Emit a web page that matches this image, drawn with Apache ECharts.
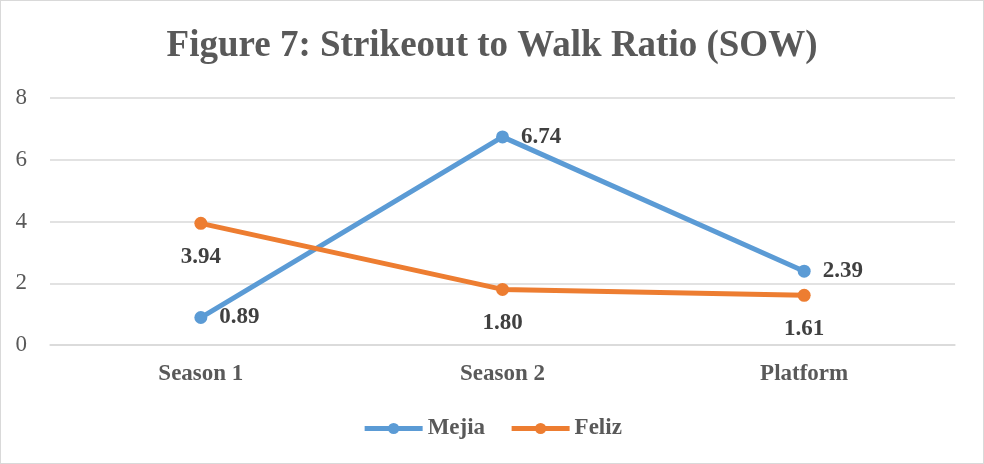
<!DOCTYPE html>
<html>
<head>
<meta charset="utf-8">
<script src="https://cdn.jsdelivr.net/npm/echarts@6/dist/echarts.min.js"></script>
<style>
  html, body { margin: 0; padding: 0; background: #fff; }
  #chart { width: 984px; height: 464px; box-sizing: border-box; border: 1px solid #d9d9d9; }
</style>
</head>
<body>
<div id="chart"></div>
<script>
const categories = ['Season 1', 'Season 2', 'Platform'];
const mejia = [0.89, 6.74, 2.39];
const feliz = [3.94, 1.80, 1.61];
const yTicks = { min: 0, max: 8, interval: 2 };

const serif = '"Liberation Serif", "Times New Roman", serif';

const chart = echarts.init(document.getElementById('chart'), null, { renderer: 'canvas' });

const labelStyle = (position, distance) => ({
  show: true,
  position: position,
  distance: distance,
  formatter: (p) => p.value.toFixed(2),
  fontFamily: serif,
  fontWeight: 'bold',
  fontSize: 23,
  color: '#404040',
});

chart.setOption({
  animation: false,
  backgroundColor: '#fff',
  title: {
    text: 'Figure 7: Strikeout to Walk Ratio (SOW)',
    left: 'center',
    top: 22,
    textStyle: {
      fontFamily: serif,
      fontWeight: 'bold',
      fontSize: 37,
      color: '#595959',
    },
  },
  grid: { left: 49, right: 28, top: 97, bottom: 118 },
  legend: {
    bottom: 18,
    left: 'center',
    itemWidth: 58,
    itemHeight: 14,
    itemGap: 24,
    lineStyle: { width: 5 },
    textStyle: {
      fontFamily: serif,
      fontWeight: 'bold',
      fontSize: 23,
      color: '#595959',
    },
    data: ['Mejia', 'Feliz'],
  },
  xAxis: {
    type: 'category',
    data: categories,
    boundaryGap: true,
    axisLine: { show: true, lineStyle: { color: '#d9d9d9', width: 1.5 } },
    axisTick: { show: false },
    axisLabel: {
      margin: 18,
      fontFamily: serif,
      fontWeight: 'bold',
      fontSize: 23,
      color: '#595959',
    },
  },
  yAxis: {
    type: 'value',
    min: yTicks.min,
    max: yTicks.max,
    interval: yTicks.interval,
    axisLine: { show: false },
    axisTick: { show: false },
    splitLine: { lineStyle: { color: '#d9d9d9', width: 1.5 } },
    axisLabel: {
      margin: 23,
      fontFamily: serif,
      fontSize: 23,
      color: '#595959',
    },
  },
  series: [
    {
      name: 'Mejia',
      type: 'line',
      data: mejia,
      symbol: 'circle',
      symbolSize: 13,
      itemStyle: { color: '#5B9BD5' },
      lineStyle: { width: 5, color: '#5B9BD5' },
      label: labelStyle('right', 12),
    },
    {
      name: 'Feliz',
      type: 'line',
      data: feliz,
      symbol: 'circle',
      symbolSize: 13,
      itemStyle: { color: '#ED7D31' },
      lineStyle: { width: 5, color: '#ED7D31' },
      label: labelStyle('bottom', 16),
    },
  ],
});
</script>
</body>
</html>
